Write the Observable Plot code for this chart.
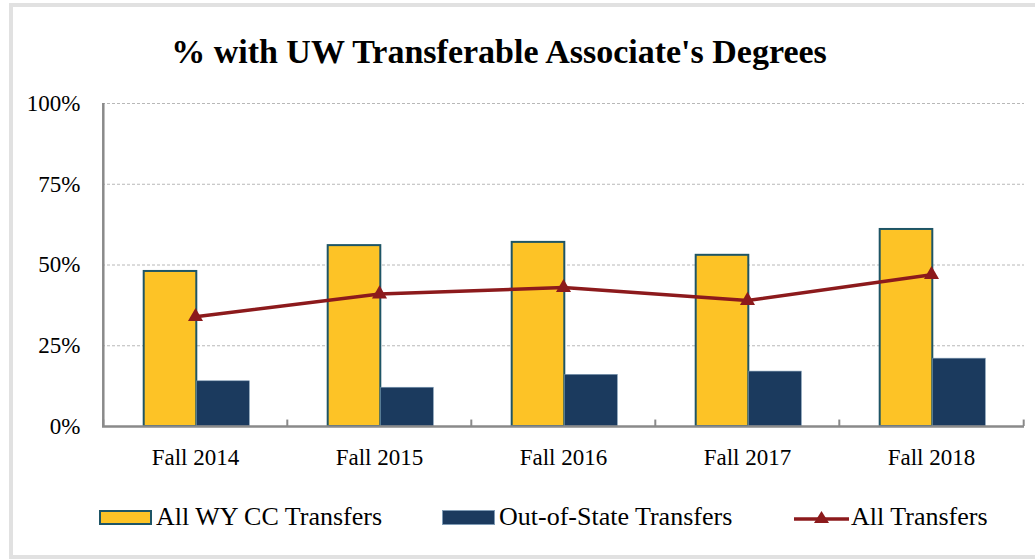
<!DOCTYPE html>
<html>
<head>
<meta charset="utf-8">
<script src="https://cdn.jsdelivr.net/npm/d3@7"></script>
<script src="https://cdn.jsdelivr.net/npm/@observablehq/plot@0.6"></script>
<style>
  html, body { margin: 0; padding: 0; background: #fff; }
  #wrap { position: relative; width: 1035px; height: 559px; overflow: hidden; font-family: "Liberation Serif", serif; }
  #frame { position: absolute; left: 9px; top: 3px; width: 1040px; height: 556px; border: 4px solid #e1e1e1; box-sizing: border-box; }
  #title { position: absolute; left: 0; width: 998px; top: 33px; text-align: center; font-weight: bold; font-size: 34px; color: #000; }
  #chart { position: absolute; left: 0; top: 0; }
  #legend { position: absolute; top: 502px; left: 0; width: 1035px; height: 30px; font-size: 26px; color: #000; }
  .li { position: absolute; top: 0; display: flex; align-items: center; height: 30px; white-space: nowrap; }
  .sw { display: inline-block; width: 53px; height: 15px; margin-right: 4px; box-sizing: border-box; }
</style>
</head>
<body>
<div id="wrap">
  <div id="frame"></div>
  <div id="chart"></div>
  <div id="title">% with UW Transferable Associate's Degrees</div>
  <div id="legend"></div>
</div>
<script>
const categories = ["Fall 2014", "Fall 2015", "Fall 2016", "Fall 2017", "Fall 2018"];
const wyccTransfers = [48, 56, 57, 53, 61];
const outOfStateTransfers = [14, 12, 16, 17, 21];
const allTransfers = [34, 41, 43, 39, 47];
const yTicks = [0, 25, 50, 75, 100];
const seriesNames = ["All WY CC Transfers", "Out-of-State Transfers", "All Transfers"];

const colors = { wycc: "#fdc326", wyccStroke: "#1e5566", oos: "#1b3a5e", all: "#8c1a1c" };

const wyccData = categories.map((c, i) => ({ cat: c, v: wyccTransfers[i] }));
const oosData = categories.map((c, i) => ({ cat: c, v: outOfStateTransfers[i] }));
const allData = categories.map((c, i) => ({ cat: c, v: allTransfers[i] }));

const W = 1035, H = 559;
const mL = 102, mR = 11, mT = 103, mB = 133;
const bw = (W - mL - mR) / categories.length;
const barW = 53;
const pairLeft = (bw - 2 * barW) / 2 + 1.5;

const plot = Plot.plot({
  width: W,
  height: H,
  marginLeft: mL,
  marginRight: mR,
  marginTop: mT,
  marginBottom: mB,
  style: { fontFamily: "Liberation Serif, serif", fontSize: "23px", color: "#000", background: "transparent" },
  x: { type: "band", domain: categories, padding: 0, label: null },
  y: { domain: [0, 100], label: null },
  marks: [
    Plot.ruleY(yTicks.filter(d => d > 0), { stroke: "#b8b8b8", strokeWidth: 1, strokeDasharray: "3,2" }),
    Plot.barY(wyccData, { x: "cat", y: "v", fill: colors.wycc, stroke: colors.wyccStroke, strokeWidth: 2,
      insetLeft: pairLeft, insetRight: bw - pairLeft - barW }),
    Plot.barY(oosData, { x: "cat", y: "v", fill: colors.oos, stroke: "#7f9bb5", strokeWidth: 0.6,
      insetLeft: pairLeft + barW, insetRight: bw - pairLeft - 2 * barW }),
    Plot.line(allData, { x: "cat", y: "v", stroke: colors.all, strokeWidth: 3.5 }),
    Plot.dot(allData, { x: "cat", y: "v", symbol: "triangle", r: 5.6, fill: colors.all, stroke: "none" }),
    Plot.ruleY([0], { stroke: "#8a8a8a", strokeWidth: 2.5 }),
    Plot.ruleX([0], { x: () => categories[0], stroke: "#8a8a8a", strokeWidth: 2.5, dx: -bw / 2, y1: 0, y2: 100 }),
    Plot.ruleX(categories, { x: d => d, dx: -bw / 2, y1: 0, y2: 2, stroke: "#8a8a8a", strokeWidth: 2 }),
    Plot.ruleX([categories[categories.length - 1]], { x: d => d, dx: bw / 2, y1: 0, y2: 2, stroke: "#8a8a8a", strokeWidth: 2 }),
    Plot.axisY({ ticks: yTicks, tickFormat: d => d + "%", tickSize: 0, tickPadding: 22, fontSize: 23 }),
    Plot.axisX({ tickSize: 0, tickPadding: 22, fontSize: 23 })
  ]
});
document.getElementById("chart").appendChild(plot);

// Legend
const legend = document.getElementById("legend");
const items = [
  { name: seriesNames[0], left: 99, sw: `<span class="sw" style="background:${colors.wycc};border:2px solid ${colors.wyccStroke}"></span>` },
  { name: seriesNames[1], left: 442, sw: `<span class="sw" style="background:${colors.oos};border:1px solid #7f9bb5"></span>` },
  { name: seriesNames[2], left: 794, sw: `<svg width="55" height="20" style="margin-right:2px"><line x1="0" y1="12" x2="55" y2="12" stroke="${colors.all}" stroke-width="3.5"/><path d="M27.5,4 L35,16 L20,16 Z" fill="${colors.all}"/></svg>` }
];
for (const it of items) {
  const d = document.createElement("div");
  d.className = "li";
  d.style.left = it.left + "px";
  d.innerHTML = it.sw + `<span>${it.name}</span>`;
  legend.appendChild(d);
}
</script>
</body>
</html>
